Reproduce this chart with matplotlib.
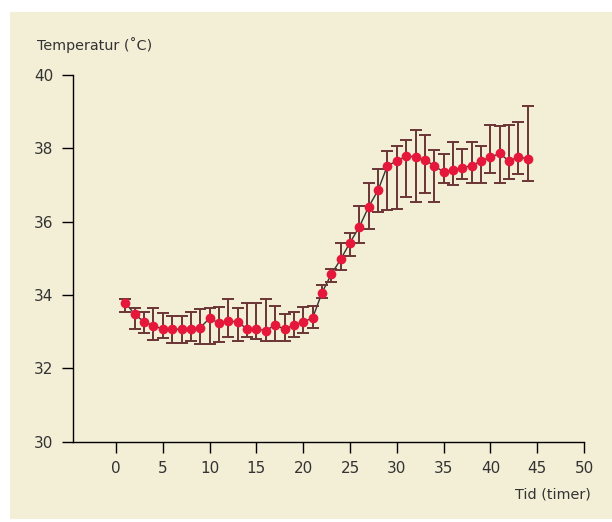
import matplotlib
matplotlib.use('Agg')
import matplotlib.pyplot as plt
from matplotlib.patches import Rectangle

# hours
hours = list(range(1, 45))
# mean temperature
temp = [33.79, 33.47, 33.27, 33.16, 33.07, 33.07, 33.07, 33.07, 33.11, 33.37,
        33.23, 33.29, 33.27, 33.07, 33.07, 33.03, 33.18, 33.07, 33.18, 33.27,
        33.37, 34.06, 34.57, 34.97, 35.43, 35.86, 36.41, 36.86, 37.53, 37.65,
        37.79, 37.77, 37.68, 37.53, 37.35, 37.41, 37.47, 37.53, 37.65, 37.76,
        37.86, 37.65, 37.77, 37.71]
# upper end of error bar
temp_hi = [33.89, 33.64, 33.55, 33.65, 33.50, 33.43, 33.43, 33.55, 33.62, 33.65,
           33.68, 33.88, 33.65, 33.77, 33.79, 33.89, 33.71, 33.47, 33.55, 33.68,
           33.70, 34.27, 34.71, 35.43, 35.68, 36.44, 37.05, 37.44, 37.93, 38.06,
           38.23, 38.50, 38.36, 37.95, 37.85, 38.16, 37.98, 38.17, 38.06, 38.64,
           38.61, 38.64, 38.72, 39.15]
# lower end of error bar
temp_lo = [33.55, 33.07, 32.96, 32.77, 32.82, 32.68, 32.68, 32.75, 32.66, 32.66,
           32.73, 32.86, 32.75, 32.86, 32.80, 32.75, 32.75, 32.75, 32.86, 32.96,
           33.09, 33.93, 34.35, 34.68, 35.07, 35.41, 35.80, 36.27, 36.32, 36.35,
           36.68, 36.54, 36.79, 36.54, 37.05, 36.99, 37.16, 37.05, 37.06, 37.34,
           37.06, 37.16, 37.31, 37.11]
x_ticks = [0, 5, 10, 15, 20, 25, 30, 35, 40, 45, 50]
y_ticks = [30, 32, 34, 36, 38, 40]

plt.rcParams['font.family'] = ['DejaVu Sans']
plt.rcParams['font.size'] = 10.4

fig = plt.figure(figsize=(6.12, 5.22), dpi=100)
fig.patch.set_facecolor('white')
# beige panel behind everything
fig.patches.append(Rectangle((10/612, 3/522), 602/612, 507/522, transform=fig.transFigure,
                             facecolor='#f3eed6', edgecolor='none', zorder=-1))

ax = fig.add_axes([73/612, 80.3/522, 511/612, 366.7/522])
ax.set_facecolor('none')

err = [[m - l for m, l in zip(temp, temp_lo)], [h - m for m, h in zip(temp, temp_hi)]]
ax.plot(hours, temp, color='#333333', lw=1, zorder=2)
ax.errorbar(hours, temp, yerr=err, fmt='none', ecolor='#6b3535', elinewidth=1.4,
            capsize=4, capthick=1.4, zorder=3)
ax.plot(hours, temp, 'o', color='#e5173b', ms=7, mec='none', zorder=4)

ax.set_xlim(-4.6, 50)
ax.set_ylim(30, 40)
ax.set_xticks(x_ticks)
ax.set_yticks(y_ticks)
for s in ['top', 'right']:
    ax.spines[s].set_visible(False)
for s in ['left', 'bottom']:
    ax.spines[s].set_linewidth(1)
ax.tick_params(length=8, width=1, pad=6, colors='black', labelcolor='#333333',
               labelsize=11)

fig.text(37/612, 1 - 45/522, 'Temperatur (˚C)', ha='left', va='center', color='#333333')
fig.text(591/612, 1 - 495/522, 'Tid (timer)', ha='right', va='center', color='#333333')

fig.savefig('out.png', dpi=100)
